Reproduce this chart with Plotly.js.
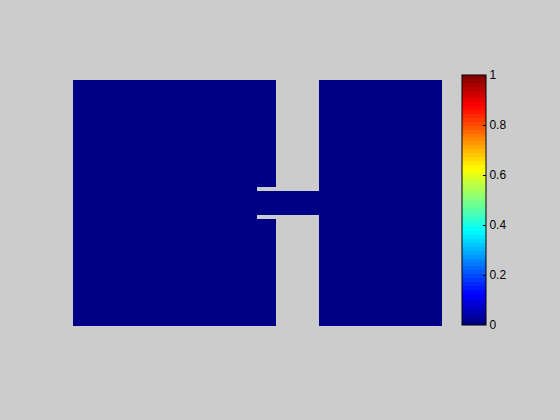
<!DOCTYPE html>
<html><head><meta charset="utf-8">
<script src="https://cdn.plot.ly/plotly-3.0.1.min.js"></script>
<style>html,body{margin:0;padding:0;background:#cccccc;}</style>
</head><body>
<div id="chart" style="width:560px;height:420px;"></div>
<script>
// Cell edges (data units) of the domain grid
const xEdges = [0, 184, 203, 246, 369];
const yEdges = [0, 106.5, 111, 135, 139, 246];
// Field values per cell (null = outside domain)
const zRow1 = [0, 0, null, 0];
const zRow2 = [0, null, null, 0];
const zRow3 = [0, 0, 0, 0];
const zRow4 = [0, null, null, 0];
const zRow5 = [0, 0, null, 0];
const zValues = [zRow1, zRow2, zRow3, zRow4, zRow5];
const cbTicks = [0, 0.2, 0.4, 0.6, 0.8, 1];

// MATLAB jet, 64 discrete levels
function jet(t){
  const r = Math.min(Math.max(Math.min(4*t-1.5, -4*t+4.5),0),1);
  const g = Math.min(Math.max(Math.min(4*t-0.5, -4*t+3.5),0),1);
  const b = Math.min(Math.max(Math.min(4*t+0.5, -4*t+2.5),0),1);
  return 'rgb('+Math.round(r*255)+','+Math.round(g*255)+','+Math.round(b*255)+')';
}
const N = 64, cs = [];
for(let i=0;i<N;i++){
  const c = jet((i+0.5)/N);
  cs.push([i/N, c]); cs.push([(i+1)/N, c]);
}

const trace = {
  type:'heatmap', x:xEdges, y:yEdges, z:zValues,
  colorscale:cs, zmin:0, zmax:1, hoverongaps:false,
  colorbar:{
    x:1.0542, xanchor:'left', xpad:0, ypad:0,
    y:0.512, yanchor:'middle',
    thickness:24, thicknessmode:'pixels',
    len:250, lenmode:'pixels',
    outlinewidth:1, outlinecolor:'#000',
    tickmode:'array', tickvals:cbTicks, ticktext:cbTicks.map(String),
    ticks:'inside', ticklen:3, tickcolor:'#000',
    tickfont:{family:'Liberation Sans, Arial, sans-serif', size:12, color:'#000'}
  }
};
const layout = {
  width:560, height:420,
  paper_bgcolor:'#cccccc', plot_bgcolor:'#cccccc',
  margin:{l:73, r:118, t:80, b:94},
  xaxis:{range:[0,369], visible:false, fixedrange:true},
  yaxis:{range:[246,0], visible:false, fixedrange:true},
  showlegend:false
};
Plotly.newPlot('chart',[trace],layout,{displayModeBar:false,staticPlot:true});
</script>
</body></html>
